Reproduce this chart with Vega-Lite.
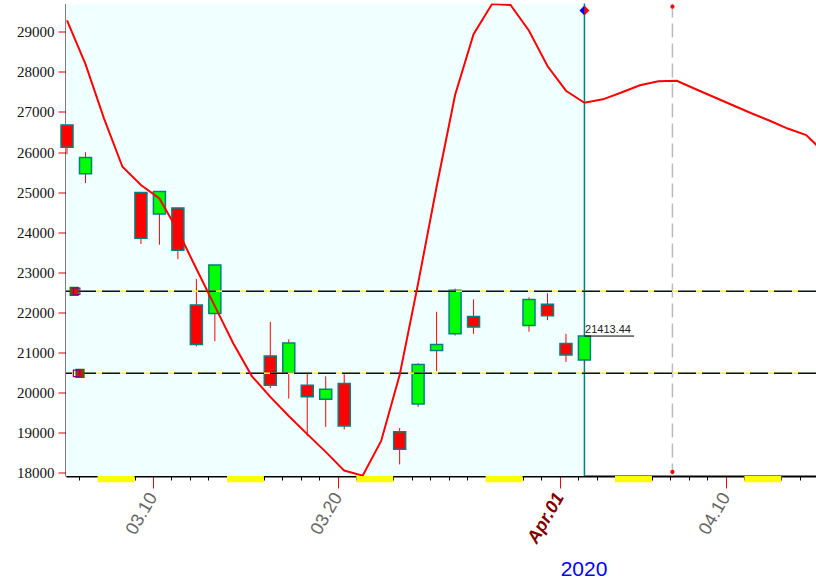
{
  "$schema": "https://vega.github.io/schema/vega-lite/v6.json",
  "width": 750,
  "height": 472.5,
  "autosize": "none",
  "padding": {"left": 66, "top": 3.5, "right": 0, "bottom": 105},
  "background": "white",
  "config": {
    "view": {"fill": "white", "stroke": null},
    "axis": {"grid": false, "domainColor": "black", "domainWidth": 2, "zindex": 1},
    "scale": {"continuousPadding": 0}
  },
  "datasets": {
    "ohlc": [
      {"date": "2020-03-05", "open": 26671.92, "high": 26671.92, "low": 25943.33, "close": 26121.28},
      {"date": "2020-03-06", "open": 25457.21, "high": 25994.38, "low": 25226.62, "close": 25864.78},
      {"date": "2020-03-09", "open": 24992.36, "high": 24992.36, "low": 23706.07, "close": 23851.02},
      {"date": "2020-03-10", "open": 24453.0, "high": 25020.99, "low": 23690.34, "close": 25018.16},
      {"date": "2020-03-11", "open": 24604.63, "high": 24604.63, "low": 23328.32, "close": 23553.22},
      {"date": "2020-03-12", "open": 22184.71, "high": 22837.95, "low": 21154.46, "close": 21200.62},
      {"date": "2020-03-13", "open": 21973.82, "high": 23185.62, "low": 21285.37, "close": 23185.62},
      {"date": "2020-03-16", "open": 20917.53, "high": 21768.28, "low": 20116.2, "close": 20188.52},
      {"date": "2020-03-17", "open": 20500.0, "high": 21331.38, "low": 19855.09, "close": 21237.38},
      {"date": "2020-03-18", "open": 20189.0, "high": 20490.0, "low": 18917.46, "close": 19898.92},
      {"date": "2020-03-19", "open": 19840.0, "high": 20410.0, "low": 19150.0, "close": 20087.19},
      {"date": "2020-03-20", "open": 20232.0, "high": 20464.0, "low": 19085.0, "close": 19173.98},
      {"date": "2020-03-23", "open": 19028.36, "high": 19121.01, "low": 18213.65, "close": 18591.93},
      {"date": "2020-03-24", "open": 19722.19, "high": 20737.7, "low": 19649.25, "close": 20704.91},
      {"date": "2020-03-25", "open": 21050.34, "high": 22019.93, "low": 20538.34, "close": 21200.55},
      {"date": "2020-03-26", "open": 21468.38, "high": 22595.06, "low": 21427.1, "close": 22552.17},
      {"date": "2020-03-27", "open": 21898.47, "high": 22327.57, "low": 21469.27, "close": 21636.78},
      {"date": "2020-03-30", "open": 21678.22, "high": 22378.09, "low": 21522.08, "close": 22327.48},
      {"date": "2020-03-31", "open": 22208.42, "high": 22480.78, "low": 21810.0, "close": 21917.16},
      {"date": "2020-04-01", "open": 21227.38, "high": 21470.0, "low": 20770.0, "close": 20943.51},
      {"date": "2020-04-02", "open": 20819.46, "high": 21451.0, "low": 20755.0, "close": 21413.44}
    ],
    "curve": [
      {"date": "2020-03-05", "v": 29284}, {"date": "2020-03-06", "v": 28190}, {"date": "2020-03-07", "v": 26840},
      {"date": "2020-03-08", "v": 25634}, {"date": "2020-03-09", "v": 25177}, {"date": "2020-03-10", "v": 24845},
      {"date": "2020-03-11", "v": 24038}, {"date": "2020-03-12", "v": 23090}, {"date": "2020-03-13", "v": 22160},
      {"date": "2020-03-14", "v": 21229}, {"date": "2020-03-15", "v": 20415}, {"date": "2020-03-16", "v": 19898},
      {"date": "2020-03-17", "v": 19420}, {"date": "2020-03-18", "v": 18968}, {"date": "2020-03-19", "v": 18526},
      {"date": "2020-03-20", "v": 18060}, {"date": "2020-03-21", "v": 17935}, {"date": "2020-03-22", "v": 18800},
      {"date": "2020-03-23", "v": 20440}, {"date": "2020-03-24", "v": 22726}, {"date": "2020-03-25", "v": 25135},
      {"date": "2020-03-26", "v": 27421}, {"date": "2020-03-27", "v": 28940}, {"date": "2020-03-28", "v": 29690},
      {"date": "2020-03-29", "v": 29665}, {"date": "2020-03-30", "v": 29025}, {"date": "2020-03-31", "v": 28145},
      {"date": "2020-04-01", "v": 27529}, {"date": "2020-04-02", "v": 27229}, {"date": "2020-04-03", "v": 27314},
      {"date": "2020-04-04", "v": 27484}, {"date": "2020-04-05", "v": 27666}, {"date": "2020-04-06", "v": 27763},
      {"date": "2020-04-07", "v": 27778}, {"date": "2020-04-08", "v": 27571}, {"date": "2020-04-09", "v": 27372},
      {"date": "2020-04-10", "v": 27172}, {"date": "2020-04-11", "v": 26973}, {"date": "2020-04-12", "v": 26786},
      {"date": "2020-04-13", "v": 26586}, {"date": "2020-04-14", "v": 26424}, {"date": "2020-04-15", "v": 25980}
    ],
    "weekends": [
      {"start": "2020-03-07", "end": "2020-03-09"},
      {"start": "2020-03-14", "end": "2020-03-16"},
      {"start": "2020-03-21", "end": "2020-03-23"},
      {"start": "2020-03-28", "end": "2020-03-30"},
      {"start": "2020-04-04", "end": "2020-04-06"},
      {"start": "2020-04-11", "end": "2020-04-13"}
    ],
    "levels": [{"level": 22530}, {"level": 20485}],
    "last": [{"date": "2020-04-02", "close": 21413.44, "label": "21413.44"}]
  },
  "layer": [
    {
      "data": {"values": [{"start": "2020-03-05", "end": "2020-04-02"}]},
      "mark": {"type": "rect", "color": "#f0ffff", "clip": true, "xOffset": -10, "x2Offset": 6.4},
      "encoding": {
        "x": {"field": "start", "type": "temporal",
          "scale": {"type": "utc", "nice": false, "padding": 0, "domain": [1583391600000, 1586898180000]},
          "axis": {
            "title": "2020", "titleColor": "#0000ff", "titleFontSize": 21, "titleFont": "Liberation Sans", "titleFontWeight": "normal",
            "titleX": 517.5, "titleY": 93, "titleAlign": "center", "titleBaseline": "middle",
            "tickCount": {"interval": "day", "step": 1},
            "labelExpr": "indexof([1,10,20], utcdate(datum.value)) >= 0 ? (utcdate(datum.value) == 1 ? utcFormat(datum.value, '%b.%d') : utcFormat(datum.value, '%m.%d')) : ''",
            "labelOverlap": false, "labelFlush": false, "labelBound": false,
            "labelAngle": -60, "labelAlign": "right", "labelBaseline": "middle", "labelPadding": 6,
            "labelFont": "Liberation Sans", "labelFontSize": 18,
            "labelColor": {"condition": {"test": "utcdate(datum.value) == 1", "value": "#800000"}, "value": "#666666"},
            "labelFontWeight": {"condition": {"test": "utcdate(datum.value) == 1", "value": "bold"}, "value": "normal"},
            "labelFontStyle": {"condition": {"test": "utcdate(datum.value) == 1", "value": "italic"}, "value": "normal"},
            "tickSize": {"condition": {"test": "indexof([1,10,20], utcdate(datum.value)) >= 0", "value": 12}, "value": 4},
            "tickColor": {"condition": {"test": "indexof([1,10,20], utcdate(datum.value)) >= 0", "value": "#ff0000"}, "value": "#000000"},
            "tickWidth": 1
          }
        },
        "x2": {"field": "end"}
      }
    },
    {
      "data": {"name": "weekends"},
      "mark": {"type": "rect", "color": "#ffff00"},
      "encoding": {
        "x": {"field": "start", "type": "temporal", "scale": {"type": "utc", "nice": false, "padding": 0, "domain": [1583391600000, 1586898180000]}},
        "x2": {"field": "end"},
        "y": {"datum": 17925, "type": "quantitative",
          "scale": {"domain": [17925, 29703], "nice": false, "zero": false, "padding": 0},
          "axis": {
            "title": null,
            "values": [18000, 18500, 19000, 19500, 20000, 20500, 21000, 21500, 22000, 22500, 23000, 23500, 24000, 24500, 25000, 25500, 26000, 26500, 27000, 27500, 28000, 28500, 29000, 29500],
            "labelExpr": "datum.value % 1000 === 0 ? format(datum.value, 'd') : ''",
            "labelFont": "Liberation Sans Narrow", "labelFontSize": 15, "labelColor": "#111111", "labelPadding": 4,
            "labelOverlap": false, "labelFlush": false,
            "tickSize": {"condition": {"test": "datum.value % 1000 === 0", "value": 8}, "value": 4},
            "tickColor": "#e00000", "tickWidth": 1
          }
        },
        "y2": {"datum": 17770}
      }
    },
    {
      "data": {"values": [{"date": "2020-04-07"}]},
      "mark": {"type": "rule", "color": "#bbbbbb", "strokeWidth": 1.5, "strokeDash": [14, 6], "xOffset": 2},
      "encoding": {"x": {"field": "date", "type": "temporal"}}
    },
    {
      "data": {"values": [{"date": "2020-04-02"}]},
      "mark": {"type": "rule", "color": "#008080", "strokeWidth": 1.5, "xOffset": 6.4},
      "encoding": {"x": {"field": "date", "type": "temporal"}}
    },
    {
      "data": {"name": "ohlc"},
      "mark": {"type": "rule", "color": "#ff0000", "strokeWidth": 1, "xOffset": 6.4},
      "encoding": {
        "x": {"field": "date", "type": "temporal"},
        "y": {"field": "low", "type": "quantitative"},
        "y2": {"field": "high"}
      }
    },
    {
      "data": {"name": "ohlc"},
      "mark": {"type": "bar", "size": 12, "stroke": "#008080", "strokeWidth": 1.5, "xOffset": 6.4},
      "encoding": {
        "x": {"field": "date", "type": "temporal"},
        "y": {"field": "open", "type": "quantitative"},
        "y2": {"field": "close"},
        "fill": {"condition": {"test": "datum.close > datum.open", "value": "#00ff00"}, "value": "#ff0000"}
      }
    },
    {
      "data": {"name": "levels"},
      "mark": {"type": "rule", "color": "#ffff00", "strokeWidth": 1.5},
      "encoding": {"y": {"field": "level", "type": "quantitative"}}
    },
    {
      "data": {"name": "levels"},
      "mark": {"type": "rule", "color": "#000080", "strokeWidth": 1.5, "strokeDash": [18, 6]},
      "encoding": {"y": {"field": "level", "type": "quantitative"}}
    },
    {
      "data": {"name": "curve"},
      "mark": {"type": "line", "color": "#ff0000", "strokeWidth": 2, "clip": true, "xOffset": 6.4},
      "encoding": {
        "x": {"field": "date", "type": "temporal"},
        "y": {"field": "v", "type": "quantitative"}
      }
    },
    {
      "data": {"name": "last"},
      "mark": {"type": "rule", "color": "#000000", "strokeWidth": 1, "xOffset": 6.4, "x2Offset": 56},
      "encoding": {
        "x": {"field": "date", "type": "temporal"},
        "x2": {"field": "date"},
        "y": {"field": "close", "type": "quantitative"}
      }
    },
    {
      "data": {"name": "last"},
      "mark": {"type": "text", "align": "left", "baseline": "alphabetic", "dy": -3, "xOffset": 7, "font": "Liberation Sans", "fontSize": 11, "color": "#222222"},
      "encoding": {
        "x": {"field": "date", "type": "temporal"},
        "y": {"field": "close", "type": "quantitative"},
        "text": {"field": "label"}
      }
    },
    {
      "data": {"values": [{"date": "2020-04-02", "v": 29530}]},
      "mark": {"type": "point", "shape": "M -1 0 L 0 -1 L 0 1 Z", "size": 100, "filled": true, "color": "#0000ff", "opacity": 1, "xOffset": 6.4},
      "encoding": {
        "x": {"field": "date", "type": "temporal"},
        "y": {"field": "v", "type": "quantitative"}
      }
    },
    {
      "data": {"values": [{"date": "2020-04-02", "v": 29530}]},
      "mark": {"type": "point", "shape": "M 1 0 L 0 -1 L 0 1 Z", "size": 100, "filled": true, "color": "#ff0000", "opacity": 1, "xOffset": 6.4},
      "encoding": {
        "x": {"field": "date", "type": "temporal"},
        "y": {"field": "v", "type": "quantitative"}
      }
    },
    {
      "data": {"values": [{"date": "2020-04-07", "v": 29623}, {"date": "2020-04-07", "v": 18025}]},
      "mark": {"type": "point", "shape": "circle", "size": 18, "filled": true, "color": "#ff0000", "opacity": 1, "xOffset": 2},
      "encoding": {
        "x": {"field": "date", "type": "temporal"},
        "y": {"field": "v", "type": "quantitative"}
      }
    },
    {
      "data": {"values": [{"date": "2020-03-05", "v": 22530}]},
      "mark": {"type": "point", "shape": "square", "size": 60, "filled": true, "fill": "#ff0000", "stroke": "#008000", "strokeWidth": 1.5, "opacity": 1, "xOffset": 13.6},
      "encoding": {
        "x": {"field": "date", "type": "temporal"},
        "y": {"field": "v", "type": "quantitative"}
      }
    },
    {
      "data": {"values": [{"date": "2020-03-05", "v": 20485}]},
      "mark": {"type": "point", "shape": "square", "size": 60, "filled": true, "fill": "#ff0000", "stroke": "#008000", "strokeWidth": 1.5, "opacity": 1, "xOffset": 19.4},
      "encoding": {
        "x": {"field": "date", "type": "temporal"},
        "y": {"field": "v", "type": "quantitative"}
      }
    },
    {
      "data": {"values": [{"date": "2020-03-05", "v": 22530}, {"date": "2020-03-05", "v": 20485}]},
      "mark": {"type": "point", "shape": "square", "size": 42, "filled": false, "stroke": "#800080", "strokeWidth": 1.2, "opacity": 1, "xOffset": 16},
      "encoding": {
        "x": {"field": "date", "type": "temporal"},
        "y": {"field": "v", "type": "quantitative"}
      }
    }
  ]
}
